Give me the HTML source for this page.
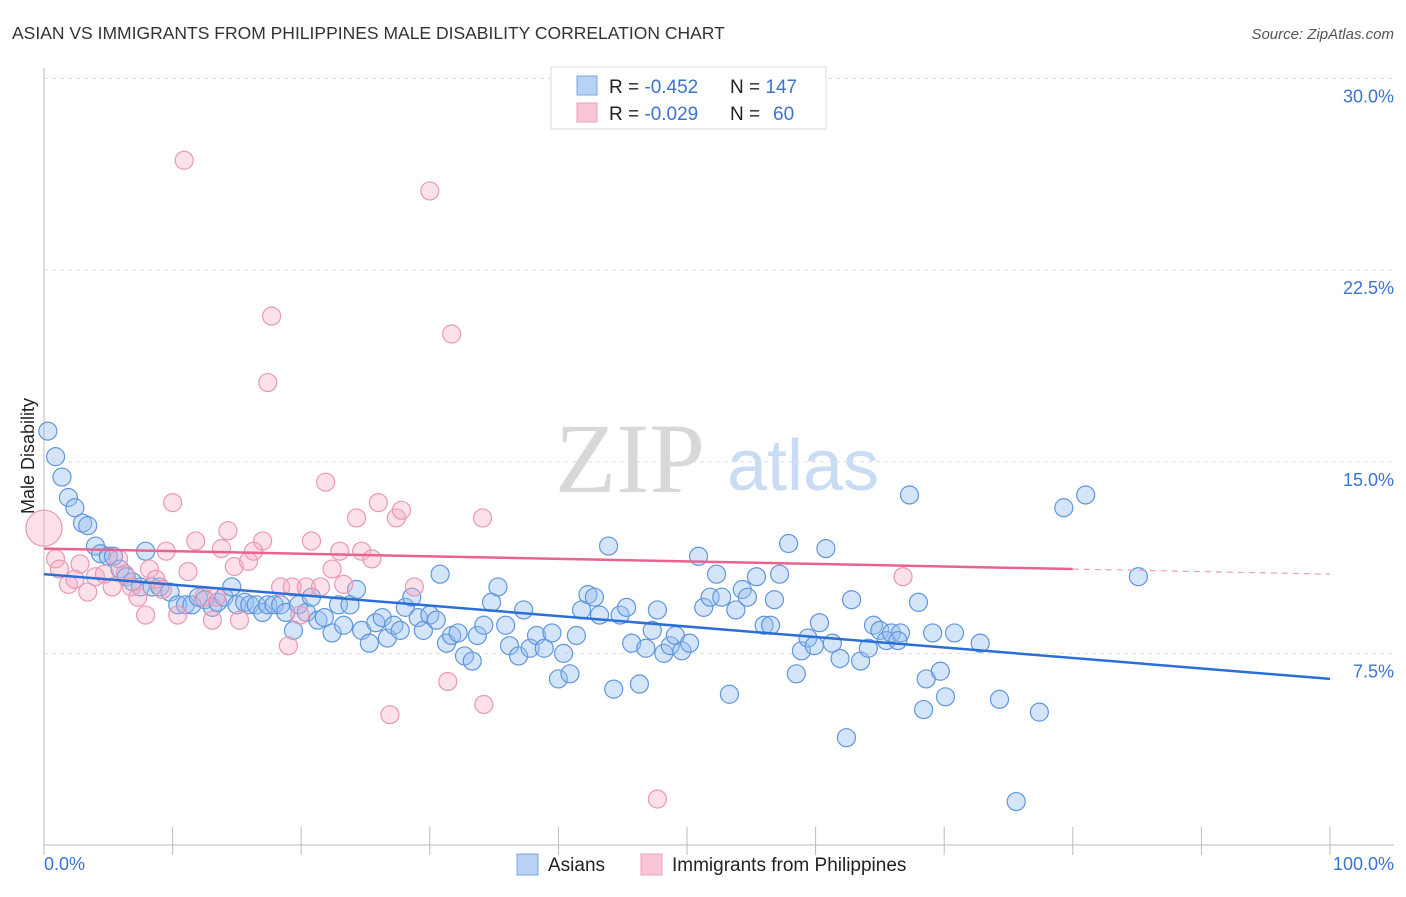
<!DOCTYPE html>
<html><head><meta charset="utf-8"><style>
body{margin:0;background:#fff;font-family:"Liberation Sans",sans-serif}
svg text{font-family:"Liberation Sans",sans-serif}
</style></head><body>
<svg id="c" width="1406" height="892">
<text x="12" y="39" font-size="17.5" fill="#333">ASIAN VS IMMIGRANTS FROM PHILIPPINES MALE DISABILITY CORRELATION CHART</text>
<text x="1394" y="39" font-size="15" fill="#555" text-anchor="end" font-style="italic">Source: ZipAtlas.com</text>
<text x="630" y="492" font-size="100" fill="#d8d8d8" text-anchor="middle" font-family="Liberation Serif" style="font-family:'Liberation Serif',serif">ZIP</text>
<text x="803" y="490" font-size="72" fill="#c9dcf3" text-anchor="middle">atlas</text>
<g id="grid"></g><g id="axes"></g><g id="pts"></g><g id="trend"></g>
<text transform="translate(34,456) rotate(-90)" font-size="18" fill="#222" text-anchor="middle">Male Disability</text>
<text x="44" y="870" font-size="18" fill="#3b73d0">0.0%</text>
<text x="1394" y="870" font-size="18" fill="#3b73d0" text-anchor="end">100.0%</text>
<g>
<rect x="551" y="67" width="275" height="62" fill="#fff" stroke="#ddd"/>
<rect x="577" y="76" width="20" height="19" fill="#b7d2f5" stroke="#7aa6e0"/>
<rect x="577" y="103" width="20" height="19" fill="#f8c6d4" stroke="#eea0b8"/>
<text x="609" y="93" font-size="19" fill="#222">R = <tspan fill="#3b73d0">-0.452</tspan><tspan x="730">N = </tspan><tspan fill="#3b73d0">147</tspan></text>
<text x="609" y="120" font-size="19" fill="#222">R = <tspan fill="#3b73d0">-0.029</tspan><tspan x="730">N = </tspan><tspan fill="#3b73d0" x="773">60</tspan></text>
</g>
<g>
<rect x="517" y="854" width="21" height="21" fill="#b7d2f5" stroke="#7aa6e0"/>
<text x="548" y="871" font-size="19" fill="#222">Asians</text>
<rect x="641" y="854" width="21" height="21" fill="#f8c6d4" stroke="#eea0b8"/>
<text x="672" y="871" font-size="19" fill="#222">Immigrants from Philippines</text>
</g>
</svg>
<script>
const yTicks=[7.5,15,22.5,30];
const yTickLabels=["7.5%","15.0%","22.5%","30.0%"];
const xTicks=[0,10,20,30,40,50,60,70,80,90,100];
const asianX=[0.3,0.9,1.4,1.9,2.4,3.0,3.4,4.0,4.4,5.0,5.4,5.9,6.4,6.9,7.5,7.9,8.4,9.0,9.8,10.4,11.0,11.5,12.0,12.5,13.1,13.5,14.0,14.6,15.0,15.6,16.0,16.5,17.0,17.4,17.9,18.4,18.8,19.4,19.8,20.4,20.8,21.3,21.8,22.4,22.9,23.3,23.8,24.3,24.7,25.3,25.8,26.3,26.7,27.2,27.7,28.1,28.6,29.1,29.5,30.0,30.5,30.8,31.3,31.7,32.2,32.7,33.3,33.7,34.2,34.8,35.3,35.9,36.2,36.9,37.3,37.8,38.3,38.9,39.5,40.0,40.4,40.9,41.4,41.8,42.3,42.8,43.2,43.9,44.3,44.8,45.3,45.7,46.3,46.8,47.3,47.7,48.2,48.7,49.1,49.6,50.2,50.9,51.3,51.8,52.3,52.7,53.3,53.8,54.3,54.7,55.4,56.0,56.5,56.8,57.2,57.9,58.5,58.9,59.4,59.9,60.3,60.8,61.3,61.9,62.4,62.8,63.5,64.1,64.5,65.0,65.5,65.9,66.6,67.3,68.0,68.6,69.1,69.7,70.1,70.8,72.8,74.3,77.4,75.6,79.3,81.0,85.1,68.4,66.4];
const asianY=[16.2,15.2,14.4,13.6,13.2,12.6,12.5,11.7,11.4,11.3,11.3,10.8,10.5,10.3,10.1,11.5,10.1,10.1,9.9,9.4,9.4,9.4,9.7,9.6,9.3,9.5,9.7,10.1,9.4,9.5,9.4,9.4,9.1,9.4,9.4,9.4,9.1,8.4,9.4,9.1,9.7,8.8,8.9,8.3,9.4,8.6,9.4,10.0,8.4,7.9,8.7,8.9,8.1,8.6,8.4,9.3,9.7,8.9,8.4,9.0,8.8,10.6,7.9,8.2,8.3,7.4,7.2,8.2,8.6,9.5,10.1,8.6,7.8,7.4,9.2,7.7,8.2,7.7,8.3,6.5,7.5,6.7,8.2,9.2,9.8,9.7,9.0,11.7,6.1,9.0,9.3,7.9,6.3,7.7,8.4,9.2,7.5,7.8,8.2,7.6,7.9,11.3,9.3,9.7,10.6,9.7,5.9,9.2,10.0,9.7,10.5,8.6,8.6,9.6,10.6,11.8,6.7,7.6,8.1,7.8,8.7,11.6,7.9,7.3,4.2,9.6,7.2,7.7,8.6,8.4,8.0,8.3,8.3,13.7,9.5,6.5,8.3,6.8,5.8,8.3,7.9,5.7,5.2,1.7,13.2,13.7,10.5,5.3,8.0];
const philX=[0.9,1.2,1.9,2.4,2.8,3.4,4.0,4.7,5.3,5.8,6.3,6.8,7.3,7.9,8.2,8.7,9.2,9.5,10.0,10.4,10.9,11.2,11.8,12.4,13.1,13.4,13.8,14.3,14.8,15.2,15.9,16.3,17.0,17.4,17.7,18.4,19.0,19.3,19.9,20.4,20.8,21.5,21.9,22.4,23.0,23.3,24.3,24.7,25.5,26.0,26.9,27.4,27.8,28.8,30.0,31.4,31.7,34.2,34.1,47.7,66.8,0];
const philY=[11.2,10.8,10.2,10.4,11.0,9.9,10.5,10.6,10.1,11.2,10.6,10.1,9.7,9.0,10.8,10.4,10.0,11.5,13.4,9.0,26.8,10.7,11.9,9.7,8.8,9.7,11.6,12.3,10.9,8.8,11.1,11.5,11.9,18.1,20.7,10.1,7.8,10.1,9.0,10.1,11.9,10.1,14.2,10.8,11.5,10.2,12.8,11.5,11.2,13.4,5.1,12.8,13.1,10.1,25.6,6.4,20.0,5.5,12.8,1.8,10.5,12.4];
const philR=philX.map((v,i)=>i===philX.length-1?18:9);
const asianTrend=[10.6,6.5];
const philTrend=[11.6,10.8,10.6];
const X0=44,X1=1330,Y0=845,YS=25.55;
const sx=v=>X0+(X1-X0)*v/100, sy=v=>Y0-v*YS;
const NS="http://www.w3.org/2000/svg";
function mk(tag,attrs,parent){const e=document.createElementNS(NS,tag);for(const k in attrs)e.setAttribute(k,attrs[k]);document.getElementById(parent).appendChild(e);return e;}
yTicks.forEach((t,i)=>{
 const l=mk('line',{x1:44,x2:1394,y1:sy(t),y2:sy(t),stroke:'#ddd','stroke-dasharray':'4,4'},'grid');
 
 
 const tx=mk('text',{x:1394,y:sy(t)+24,'font-size':18,fill:'#3b73d0','text-anchor':'end'},'grid');
 tx.textContent=yTickLabels[i];
 
 
});
const ax=mk('line',{x1:44,x2:44,y1:68,y2:Y0,stroke:'#bbb'},'axes');


const bx=mk('line',{x1:44,x2:1394,y1:Y0,y2:Y0,stroke:'#bbb'},'axes');


xTicks.forEach(t=>{
 const l=mk('line',{x1:sx(t),x2:sx(t),y1:Y0-18,y2:Y0+10,stroke:'#bbb'},'axes');
 
 
});
asianX.forEach((v,i)=>{
 const c=mk('circle',{cx:sx(v),cy:sy(asianY[i]),r:9,fill:'rgba(150,190,240,0.4)',stroke:'#5f96dc','stroke-width':1.2},'pts');
 
 
});
philX.forEach((v,i)=>{
 const c=mk('circle',{cx:sx(v),cy:sy(philY[i]),r:philR[i],fill:'rgba(245,170,195,0.35)',stroke:'#eb98b2','stroke-width':1.2},'pts');
 
 
});
const t1=mk('line',{x1:sx(0),y1:sy(asianTrend[0]),x2:sx(100),y2:sy(asianTrend[1]),stroke:'#2a6fd6','stroke-width':2.5},'trend');


const t2=mk('line',{x1:sx(0),y1:sy(philTrend[0]),x2:sx(80),y2:sy(philTrend[1]),stroke:'#e8648f','stroke-width':2.5},'trend');


const t3=mk('line',{x1:sx(80),y1:sy(philTrend[1]),x2:sx(100),y2:sy(philTrend[2]),stroke:'#e8a0b8','stroke-width':1.2,'stroke-dasharray':'6,5'},'trend');


</script>
</body></html>
